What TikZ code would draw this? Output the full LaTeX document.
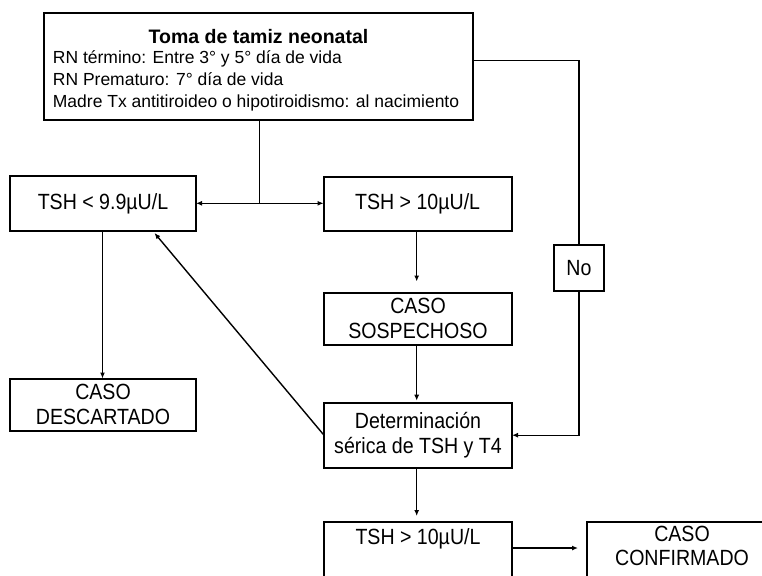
\documentclass[tikz,border=0pt]{standalone}
\usepackage{fontspec}
\setmainfont{Liberation Sans}
\newfontfamily\narrowfont[FakeStretch=0.89]{Liberation Sans}
\usetikzlibrary{arrows.meta}
\begin{document}
\begin{tikzpicture}[x=1pt,y=-1pt,
  box/.style={draw=black, line width=2pt, fill=white, inner sep=0pt, outer sep=0pt, align=center,
    font=\narrowfont\fontsize{22}{24.5}\selectfont},
  conn/.style={draw=black, line width=1.4pt},
  arr/.style={conn, -{Latex[length=6pt,width=5pt]}},
  bodytxt/.style={inner sep=0pt, anchor=base west, font=\fontsize{17.5}{20}\selectfont},
  lbl/.style={inner sep=0pt, align=center, font=\narrowfont\fontsize{22}{23.5}\selectfont}]
\useasboundingbox (0,0) rectangle (762,575);
\clip (0,0) rectangle (762,575);
\fill[white] (0,0) rectangle (762,575);

% top box
\node[box, minimum width=429pt, minimum height=107pt, anchor=north west] (top) at (44,13) {};
\node[inner sep=0pt, anchor=base, font=\fontsize{19.5}{22}\selectfont\bfseries] (title) at (258.5,43.3) {Toma de tamiz neonatal};
\node[bodytxt] (l1) at (52.7,64) {RN término: Entre 3° y 5° día de vida};
\node[bodytxt] (l2) at (52.7,85.5) {RN Prematuro: 7° día de vida};
\node[bodytxt] (l3) at (52.7,107) {Madre Tx antitiroideo o hipotiroidismo: al nacimiento};

% boxes
\node[box, minimum width=186pt, minimum height=55pt] (lt) at (103,203.5) {TSH < 9.9µU/L};
\node[box, minimum width=188pt, minimum height=54pt] (gt) at (417.6,204.3) {TSH > 10µU/L};
\node[box, minimum width=188pt, minimum height=52pt] (sos) at (418,318.5) {CASO\\SOSPECHOSO};
\node[box, minimum width=186pt, minimum height=52pt] (desc) at (103,404.5) {CASO\\DESCARTADO};
\node[box, minimum width=188pt, minimum height=65pt] (det) at (418,435.2) {Determinación\\sérica de TSH y T4};
\node[box, minimum width=50pt, minimum height=46pt] (no) at (579,268.3) {No};
\node[box, minimum width=188pt, minimum height=80pt, anchor=north] (gt2) at (418,522) {};
\node[lbl] (gt2t) at (418,539) {TSH > 10µU/L};
\node[box, minimum width=250pt, minimum height=80pt, anchor=north west] (conf) at (587,522) {};
\node[lbl] (conft) at (682,546) {CASO\\CONFIRMADO};

% connectors
\coordinate (j) at (259.3,203.3);
\draw[conn] (j |- top.south) -- (j);
\draw[arr] (j) -- (lt.east |- j);
\draw[arr] (j) -- (gt.west |- j);

\coordinate (r1) at (579,60.7);
\coordinate (r2) at (579,435.2);
\draw[conn] (top.east |- r1) -- (r1) -- (no.north);
\draw[arr] (no.south) -- (r2) -- (det.east);

\draw[arr] (lt.south -| 102.5,0) -- (desc.north -| 102.5,0);
\draw[arr, shorten >=11pt] (gt.south -| 416.7,0) -- (sos.north -| 416.7,0);
\draw[arr, shorten >=2pt] (sos.south -| 416.7,0) -- (det.north -| 416.7,0);
\draw[arr, shorten >=6pt] (det.south -| 416.7,0) -- (gt2.north -| 416.7,0);

\coordinate (lttip) at (154.5,233);
\draw[arr] (det.west) -- (lttip);

\coordinate (a) at (512,548);
\draw[arr] (a) -- (a -| 578,0);
\end{tikzpicture}
\end{document}
